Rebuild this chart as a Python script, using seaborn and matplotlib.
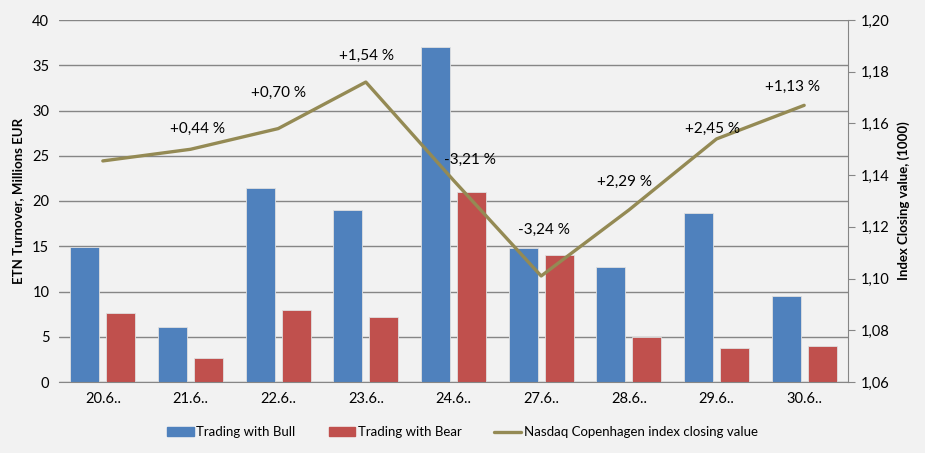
import numpy as np
import pandas as pd
import matplotlib.pyplot as plt
from matplotlib.patches import Patch
from matplotlib.lines import Line2D
import seaborn as sns

dates = ['20.6..', '21.6..', '22.6..', '23.6..', '24.6..', '27.6..', '28.6..', '29.6..', '30.6..']
bull = [14.9, 6.1, 21.4, 19.0, 37.0, 14.8, 12.7, 18.7, 9.5]
bear = [7.6, 2.65, 7.95, 7.2, 21.0, 14.0, 5.0, 3.75, 4.0]
index_close = [1.1455, 1.150, 1.158, 1.176, 1.138, 1.101, 1.1265, 1.154, 1.167]
changes = ['', '+0,44 %', '+0,70 %', '+1,54 %', '-3,21 %', '-3,24 %', '+2,29 %', '+2,45 %', '+1,13 %']
# label offsets from the line point (category units, index units)
label_offsets = [(0, 0), (0.08, 0.008), (0.0, 0.014), (0.01, 0.010), (0.19, 0.008),
                 (0.03, 0.018), (-0.05, 0.011), (-0.05, 0.004), (-0.13, 0.007)]

bull_col = '#4f81bd'
bear_col = '#c0504d'
line_col = '#948a54'
bg = '#f2f2f2'

sns.set_style('white')
plt.rcParams['font.family'] = ['Lato', 'DejaVu Sans']
plt.rcParams['text.color'] = 'black'
plt.rcParams['axes.labelcolor'] = 'black'
plt.rcParams['xtick.color'] = 'black'
plt.rcParams['ytick.color'] = 'black'

df = pd.DataFrame({
    'date': dates * 2,
    'value': bull + bear,
    'series': ['Trading with Bull'] * len(dates) + ['Trading with Bear'] * len(dates),
})

fig = plt.figure(figsize=(9.25, 4.53), dpi=100, facecolor=bg)
ax = fig.add_axes([59 / 925, 1 - 382 / 453, (848 - 59) / 925, (382 - 20) / 453])
ax.set_facecolor(bg)

sns.barplot(data=df, x='date', y='value', hue='series', saturation=1,
            palette=[bull_col, bear_col], width=0.82, gap=0.2,
            edgecolor='#e0e0e0', linewidth=0.6, legend=False, ax=ax)

ax.set_ylim(0, 40)
ax.set_yticks(range(0, 41, 5))
ax.set_xlim(-0.5, len(dates) - 0.5)
ax.grid(axis='y', color='#868686', linewidth=1)
ax.set_axisbelow(True)
for s in ['top', 'right', 'left']:
    ax.spines[s].set_visible(False)
ax.spines['bottom'].set_color('#868686')
ax.tick_params(axis='both', length=0, labelsize=10.5, pad=7)
ax.set_xlabel('')
ax.set_ylabel('ETN Turnover, Millions EUR', fontsize=9.5, fontweight='bold', labelpad=6)

ax2 = ax.twinx()
x = np.arange(len(dates))
sns.lineplot(x=x, y=index_close, color=line_col, linewidth=2.4, ax=ax2)
ax2.set_ylim(1.06, 1.20)
ax2.set_yticks(np.arange(1.06, 1.201, 0.02))
ax2.set_yticklabels([f'{v:.2f}'.replace('.', ',') for v in np.arange(1.06, 1.201, 0.02)])
for s in ['top', 'left', 'bottom']:
    ax2.spines[s].set_visible(False)
ax2.spines['right'].set_color('#868686')
ax2.tick_params(axis='y', length=5, color='#868686', labelcolor='black', labelsize=10.5, pad=4)
ax2.set_ylabel('Index Closing value, (1000)', fontsize=9.5, fontweight='bold', labelpad=6)

for i, txt in enumerate(changes):
    if not txt:
        continue
    dx, dy = label_offsets[i]
    ax2.text(x[i] + dx, index_close[i] + dy, txt, ha='center', va='center', fontsize=11)

handles = [Patch(color=bull_col), Patch(color=bear_col), Line2D([], [], color=line_col, linewidth=2.4)]
labels = ['Trading with Bull', 'Trading with Bear', 'Nasdaq Copenhagen index closing value']
fig.legend(handles, labels, loc='center', bbox_to_anchor=(0.5, 1 - 432 / 453), ncol=3,
           frameon=False, fontsize=9.5, handlelength=2.0, handleheight=0.6,
           columnspacing=2.5, handletextpad=0.2)

fig.savefig('out.png', dpi=100, facecolor=bg)
